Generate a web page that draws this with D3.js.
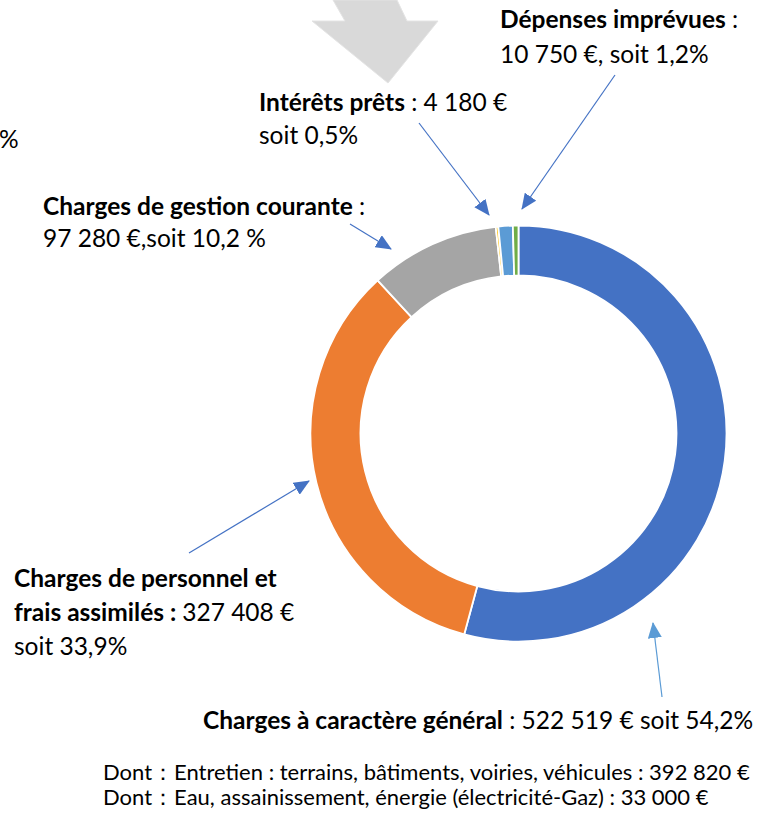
<!DOCTYPE html>
<html>
<head>
<meta charset="utf-8">
<script src="https://cdn.jsdelivr.net/npm/d3@7"></script>
<style>
  body { margin: 0; background: #fff; }
  svg { display: block; }
  text { font-family: Lato, "Open Sans", sans-serif; fill: #000; }
</style>
</head>
<body>
<div id="chart"></div>
<script>
// slices, clockwise from 12 o'clock
var categories = ["Charges à caractère général", "Charges de personnel et frais assimilés",
  "Charges de gestion courante", "Autres", "Dépenses imprévues", "Intérêts prêts"]
var values = [522519, 327408, 97280, 1920, 10750, 4180]
var colors = ["#4472C4", "#ED7D31", "#A5A5A5", "#FFC000", "#5B9BD5", "#70AD47"]

// callout texts: one entry per line, [text, bold] pieces
var calloutTexts = [
  [[["Dépenses imprévues", true], [" :", false]], [["10 750 €, soit 1,2%", false]]],
  [[["Intérêts prêts", true], [" : 4 180 €", false]], [["soit 0,5%", false]]],
  [[["Charges de gestion courante", true], [" :", false]], [["97 280 €,soit 10,2 %", false]]],
  [[["Charges de personnel et", true]], [["frais assimilés : ", true], ["327 408 €", false]], [["soit 33,9%", false]]],
  [[["Charges à caractère général", true], [" : 522 519 € soit 54,2%", false]]]
]
var detailLines = [
  "Dont：Entretien : terrains, bâtiments, voiries, véhicules : 392 820 €",
  "Dont：Eau, assainissement, énergie (électricité-Gaz) : 33 000 €"
]

var width = 775, height = 813
var cx = 518.5, cy = 433.5, outerR = 208, innerR = 158

// where each callout sits, and its arrow (from -> tip)
var calloutLayout = [
  { x: 500, y: 28, lh: 35, from: [615, 75], to: [522, 209], color: "#4472C4" },
  { x: 259, y: 111, lh: 33, from: [419, 123], to: [489, 215], color: "#4472C4" },
  { x: 43, y: 215, lh: 32, from: [350, 224], to: [391, 249], color: "#4472C4" },
  { x: 14, y: 587, lh: 34, from: [189, 553], to: [309, 481], color: "#4472C4" },
  { x: 203, y: 729, lh: 34, from: [662, 697], to: [653, 623], color: "#5B9BD5" }
]

var svg = d3.select("#chart").append("svg")
  .attr("width", width)
  .attr("height", height)

var defs = svg.append("defs")
;["#4472C4", "#5B9BD5"].forEach(function (c, i) {
  defs.append("marker")
    .attr("id", "head" + i)
    .attr("markerUnits", "userSpaceOnUse")
    .attr("viewBox", "0 0 16 14")
    .attr("refX", 15).attr("refY", 7)
    .attr("markerWidth", 16).attr("markerHeight", 14)
    .attr("orient", "auto")
    .append("path")
    .attr("d", "M0,0L16,7L0,14Z")
    .style("fill", c)
})

// big grey arrow at the top (cropped picture)
svg.append("path")
  .attr("d", "M333,0L345,21L312,21L388,83L438,21L407,21L397,0Z")
  .style("fill", "#d9d9d9")
  .style("stroke", "#e4e4e4")
  .style("stroke-width", 1)

// cut-off text on the left edge
svg.append("text")
  .attr("x", -1).attr("y", 148)
  .style("font-size", "24.5px")
  .text("%")

var pie = d3.pie().sort(null).value(function (d) { return d })
var arc = d3.arc().innerRadius(innerR).outerRadius(outerR)

var g = svg.append("g")
  .attr("transform", "translate(" + cx + "," + cy + ")")

g.selectAll("path").data(pie(values))
  .enter().append("path")
  .attr("d", arc)
  .style("fill", function (d, i) { return colors[i] })
  .style("stroke", "#fff")
  .style("stroke-width", 1.8)

// arrows
svg.selectAll(".callout-line").data(calloutLayout)
  .enter().append("line")
  .attr("class", "callout-line")
  .attr("x1", function (d) { return d.from[0] })
  .attr("y1", function (d) { return d.from[1] })
  .attr("x2", function (d) { return d.to[0] })
  .attr("y2", function (d) { return d.to[1] })
  .style("stroke", function (d) { return d.color })
  .style("stroke-width", 1.2)
  .attr("marker-end", function (d) { return d.color === "#5B9BD5" ? "url(#head1)" : "url(#head0)" })

// callout texts
calloutTexts.forEach(function (lines, i) {
  var lay = calloutLayout[i]
  var t = svg.append("text").style("font-size", "24.5px")
  lines.forEach(function (pieces, j) {
    pieces.forEach(function (p, k) {
      var ts = t.append("tspan").text(p[0])
        .style("font-weight", p[1] ? "bold" : "normal")
      if (k === 0) ts.attr("x", lay.x).attr("y", lay.y + j * lay.lh)
    })
  })
})

svg.selectAll(".detail").data(detailLines)
  .enter().append("text")
  .attr("class", "detail")
  .attr("x", 103)
  .attr("y", function (d, i) { return 780 + i * 25 })
  .style("font-size", "22px")
  .text(function (d) { return d })
</script>
</body>
</html>
